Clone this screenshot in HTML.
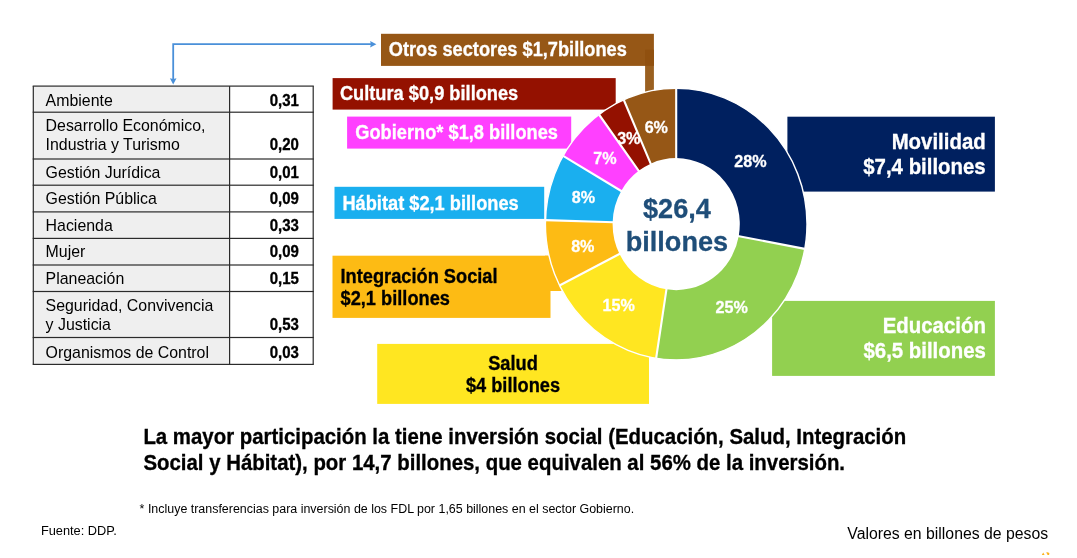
<!DOCTYPE html>
<html lang="es"><head><meta charset="utf-8"><title>Inversión por sectores</title>
<style>
html,body{margin:0;padding:0;background:#fff;}
body{width:1077px;height:558px;position:relative;overflow:hidden;font-family:"Liberation Sans",Arial,Helvetica,sans-serif;color:#000;}
.t{position:absolute;white-space:nowrap;}
svg{position:absolute;left:0;top:0;}
</style></head><body>
<svg width="1077" height="558" viewBox="0 0 1077 558" font-family="Liberation Sans, Arial, Helvetica, sans-serif">
<rect x="33.30" y="86.10" width="196.30" height="278.30" fill="#EFEFEF"/><rect x="32.70" y="85.50" width="281.10" height="1.20" fill="#2b2b2b"/><rect x="32.70" y="111.60" width="281.10" height="1.20" fill="#2b2b2b"/><rect x="32.70" y="158.40" width="281.10" height="1.20" fill="#2b2b2b"/><rect x="32.70" y="184.60" width="281.10" height="1.20" fill="#2b2b2b"/><rect x="32.70" y="211.30" width="281.10" height="1.20" fill="#2b2b2b"/><rect x="32.70" y="237.80" width="281.10" height="1.20" fill="#2b2b2b"/><rect x="32.70" y="264.40" width="281.10" height="1.20" fill="#2b2b2b"/><rect x="32.70" y="290.90" width="281.10" height="1.20" fill="#2b2b2b"/><rect x="32.70" y="336.90" width="281.10" height="1.20" fill="#2b2b2b"/><rect x="32.70" y="363.80" width="281.10" height="1.20" fill="#2b2b2b"/><rect x="32.70" y="86.10" width="1.20" height="278.30" fill="#2b2b2b"/><rect x="229.00" y="86.10" width="1.20" height="278.30" fill="#2b2b2b"/><rect x="312.60" y="86.10" width="1.20" height="278.30" fill="#2b2b2b"/><rect x="381.00" y="33.80" width="272.90" height="32.10" fill="#965716"/><rect x="332.60" y="78.10" width="283.10" height="31.50" fill="#941100"/><rect x="347.10" y="116.60" width="224.10" height="32.00" fill="#FF40FF"/><rect x="334.50" y="186.80" width="209.70" height="32.10" fill="#1AAFEF"/><rect x="332.50" y="255.70" width="218.00" height="62.20" fill="#FDBB14"/><rect x="377.20" y="343.90" width="271.80" height="60.00" fill="#FFE621"/><rect x="787.40" y="116.70" width="207.50" height="74.90" fill="#00205F"/><rect x="772.10" y="300.90" width="222.80" height="75.00" fill="#92D050"/><rect x="645.10" y="65.90" width="8.80" height="34.10" fill="#9A6020"/><rect x="645.10" y="49.70" width="8.80" height="16.20" fill="#90500F"/><rect x="545.00" y="255.70" width="16.60" height="35.30" fill="#FDBB14"/>
<g transform="translate(676.2 224.1) scale(1 1.038)"><path d="M0.00 -130.80A130.8 130.8 0 0 1 128.60 23.86L62.53 11.60A63.6 63.6 0 0 0 0.00 -63.60Z" fill="#00205F"/><path d="M128.60 23.86A130.8 130.8 0 0 1 -20.06 129.25L-9.75 62.85A63.6 63.6 0 0 0 62.53 11.60Z" fill="#92D050"/><path d="M-20.06 129.25A130.8 130.8 0 0 1 -116.69 59.09L-56.74 28.73A63.6 63.6 0 0 0 -9.75 62.85Z" fill="#FFE621"/><path d="M-116.69 59.09A130.8 130.8 0 0 1 -130.75 -3.78L-63.57 -1.84A63.6 63.6 0 0 0 -56.74 28.73Z" fill="#FDBB14"/><path d="M-130.75 -3.78A130.8 130.8 0 0 1 -113.08 -65.73L-54.99 -31.96A63.6 63.6 0 0 0 -63.57 -1.84Z" fill="#1AAFEF"/><path d="M-113.08 -65.73A130.8 130.8 0 0 1 -77.21 -105.58L-37.54 -51.34A63.6 63.6 0 0 0 -54.99 -31.96Z" fill="#FF40FF"/><path d="M-77.21 -105.58A130.8 130.8 0 0 1 -52.47 -119.81L-25.52 -58.26A63.6 63.6 0 0 0 -37.54 -51.34Z" fill="#941100"/><path d="M-52.47 -119.81A130.8 130.8 0 0 1 0.00 -130.80L0.00 -63.60A63.6 63.6 0 0 0 -25.52 -58.26Z" fill="#965716"/><path d="M0.00 -62.60L0.00 -130.80M61.55 11.42L128.60 23.86M-9.60 61.86L-20.06 129.25M-55.85 28.28L-116.69 59.09M-62.57 -1.81L-130.75 -3.78M-54.12 -31.46L-113.08 -65.73M-36.95 -50.53L-77.21 -105.58M-25.11 -57.34L-52.47 -119.81" stroke="#fff" stroke-width="2.1" fill="none"/><circle r="130.8" fill="none" stroke="#fff" stroke-width="1.4"/></g>
<path d="M173.2 79.5V44.2H371.5" fill="none" stroke="#4A90D9" stroke-width="1.8"/><path d="M376.4 44.2l-6.3-3.3 .8 3.3-.8 3.3z" fill="#4A90D9"/><path d="M173.2 84.5l-3.3-6.3 3.3 .8 3.3-.8z" fill="#4A90D9"/>
<path d="M1041.8 555l1.4-2.4 1.4 2.4zM1045.9 552.8l1.6-.5 1.9.6-.3 2.1-1.6.1-.5-1.5z" fill="#FDB21A"/>
<text transform="translate(298.80 106) scale(1.0 1.11)" font-size="15.0" fill="#000" text-anchor="end" font-weight="bold" stroke="#000" stroke-width="0.3">0,31</text><text transform="translate(298.80 150) scale(1.0 1.11)" font-size="15.0" fill="#000" text-anchor="end" font-weight="bold" stroke="#000" stroke-width="0.3">0,20</text><text transform="translate(298.80 178) scale(1.0 1.11)" font-size="15.0" fill="#000" text-anchor="end" font-weight="bold" stroke="#000" stroke-width="0.3">0,01</text><text transform="translate(298.80 204) scale(1.0 1.11)" font-size="15.0" fill="#000" text-anchor="end" font-weight="bold" stroke="#000" stroke-width="0.3">0,09</text><text transform="translate(298.80 231) scale(1.0 1.11)" font-size="15.0" fill="#000" text-anchor="end" font-weight="bold" stroke="#000" stroke-width="0.3">0,33</text><text transform="translate(298.80 257) scale(1.0 1.11)" font-size="15.0" fill="#000" text-anchor="end" font-weight="bold" stroke="#000" stroke-width="0.3">0,09</text><text transform="translate(298.80 284) scale(1.0 1.11)" font-size="15.0" fill="#000" text-anchor="end" font-weight="bold" stroke="#000" stroke-width="0.3">0,15</text><text transform="translate(298.80 330) scale(1.0 1.11)" font-size="15.0" fill="#000" text-anchor="end" font-weight="bold" stroke="#000" stroke-width="0.3">0,53</text><text transform="translate(298.80 358) scale(1.0 1.11)" font-size="15.0" fill="#000" text-anchor="end" font-weight="bold" stroke="#000" stroke-width="0.3">0,03</text><text transform="translate(388.70 56) scale(1.0 1.11)" font-size="18.25" fill="#fff" text-anchor="start" font-weight="bold" stroke="#fff" stroke-width="0.3">Otros sectores $1,7billones</text><text transform="translate(339.90 100) scale(1.0 1.11)" font-size="18.25" fill="#fff" text-anchor="start" font-weight="bold" stroke="#fff" stroke-width="0.3">Cultura $0,9 billones</text><text transform="translate(355.30 139) scale(1.0 1.11)" font-size="18.25" fill="#fff" text-anchor="start" font-weight="bold" stroke="#fff" stroke-width="0.3">Gobierno* $1,8 billones</text><text transform="translate(342.40 210) scale(1.0 1.11)" font-size="18.25" fill="#fff" text-anchor="start" font-weight="bold" stroke="#fff" stroke-width="0.3">Hábitat $2,1 billones</text><text transform="translate(340.50 283) scale(1.0 1.11)" font-size="18.25" fill="#000" text-anchor="start" font-weight="bold" stroke="#000" stroke-width="0.3">Integración Social</text><text transform="translate(340.50 305) scale(1.0 1.11)" font-size="18.25" fill="#000" text-anchor="start" font-weight="bold" stroke="#000" stroke-width="0.3">$2,1 billones</text><text transform="translate(513.00 370) scale(1.0 1.11)" font-size="18.25" fill="#000" text-anchor="middle" font-weight="bold" stroke="#000" stroke-width="0.3">Salud</text><text transform="translate(513.00 392) scale(1.0 1.11)" font-size="18.25" fill="#000" text-anchor="middle" font-weight="bold" stroke="#000" stroke-width="0.3">$4 billones</text><text transform="translate(985.70 149) scale(1.0 1.11)" font-size="20.4" fill="#fff" text-anchor="end" font-weight="bold" stroke="#fff" stroke-width="0.3">Movilidad</text><text transform="translate(985.70 174) scale(1.0 1.11)" font-size="20.4" fill="#fff" text-anchor="end" font-weight="bold" stroke="#fff" stroke-width="0.3">$7,4 billones</text><text transform="translate(985.90 333) scale(1.0 1.11)" font-size="20.4" fill="#fff" text-anchor="end" font-weight="bold" stroke="#fff" stroke-width="0.3">Educación</text><text transform="translate(985.90 358) scale(1.0 1.11)" font-size="20.4" fill="#fff" text-anchor="end" font-weight="bold" stroke="#fff" stroke-width="0.3">$6,5 billones</text><text transform="translate(750.40 167) scale(0.985 1.04)" font-size="16.4" fill="#fff" text-anchor="middle" font-weight="bold" stroke="#fff" stroke-width="0.3">28%</text><text transform="translate(731.60 313) scale(0.985 1.04)" font-size="16.4" fill="#fff" text-anchor="middle" font-weight="bold" stroke="#fff" stroke-width="0.3">25%</text><text transform="translate(618.70 311) scale(0.985 1.04)" font-size="16.4" fill="#fff" text-anchor="middle" font-weight="bold" stroke="#fff" stroke-width="0.3">15%</text><text transform="translate(582.80 252) scale(0.985 1.04)" font-size="16.4" fill="#fff" text-anchor="middle" font-weight="bold" stroke="#fff" stroke-width="0.3">8%</text><text transform="translate(583.40 203) scale(0.985 1.04)" font-size="16.4" fill="#fff" text-anchor="middle" font-weight="bold" stroke="#fff" stroke-width="0.3">8%</text><text transform="translate(605.00 164) scale(0.985 1.04)" font-size="16.4" fill="#fff" text-anchor="middle" font-weight="bold" stroke="#fff" stroke-width="0.3">7%</text><text transform="translate(628.80 144) scale(0.985 1.04)" font-size="16.4" fill="#fff" text-anchor="middle" font-weight="bold" stroke="#fff" stroke-width="0.3">3%</text><text transform="translate(656.30 133) scale(0.985 1.04)" font-size="16.4" fill="#fff" text-anchor="middle" font-weight="bold" stroke="#fff" stroke-width="0.3">6%</text><text transform="translate(676.90 218) scale(1.0 1.04)" font-size="27.1" fill="#1F4E79" text-anchor="middle" font-weight="bold" stroke="#1F4E79" stroke-width="0.3">$26,4</text><text transform="translate(676.90 251) scale(1.0 1.04)" font-size="27.1" fill="#1F4E79" text-anchor="middle" font-weight="bold" stroke="#1F4E79" stroke-width="0.3">billones</text><text transform="translate(143.40 444) scale(1.0 1.11)" font-size="20.4" fill="#000" text-anchor="start" font-weight="bold" stroke="#000" stroke-width="0.3">La mayor participación la tiene inversión social (Educación, Salud, Integración</text><text transform="translate(143.40 470) scale(1.0 1.11)" font-size="20.4" fill="#000" text-anchor="start" font-weight="bold" stroke="#000" stroke-width="0.3">Social y Hábitat), por 14,7 billones, que equivalen al 56% de la inversión.</text>
</svg>
<div class="t" style="top:91px;font-size:15.9px;line-height:19px;left:45.60px;">Ambiente</div><div class="t" style="top:116px;font-size:15.9px;line-height:19px;left:45.60px;">Desarrollo Económico,<br>Industria y Turismo</div><div class="t" style="top:163px;font-size:15.9px;line-height:19px;left:45.60px;">Gestión Jurídica</div><div class="t" style="top:189px;font-size:15.9px;line-height:19px;left:45.60px;">Gestión Pública</div><div class="t" style="top:216px;font-size:15.9px;line-height:19px;left:45.60px;">Hacienda</div><div class="t" style="top:242px;font-size:15.9px;line-height:19px;left:45.60px;">Mujer</div><div class="t" style="top:269px;font-size:15.9px;line-height:19px;left:45.60px;">Planeación</div><div class="t" style="top:296px;font-size:15.9px;line-height:19px;left:45.60px;">Seguridad, Convivencia<br>y Justicia</div><div class="t" style="top:343px;font-size:15.9px;line-height:19px;left:45.60px;">Organismos de Control</div><div class="t" style="top:502px;font-size:12.45px;line-height:14px;left:139.60px;">* Incluye transferencias para inversión de los FDL por 1,65 billones en el sector Gobierno.</div><div class="t" style="top:524px;font-size:12.8px;line-height:14px;left:40.90px;">Fuente: DDP.</div><div class="t" style="top:525px;font-size:15.8px;line-height:18px;left:847.30px;">Valores en billones de pesos</div>
</body></html>
